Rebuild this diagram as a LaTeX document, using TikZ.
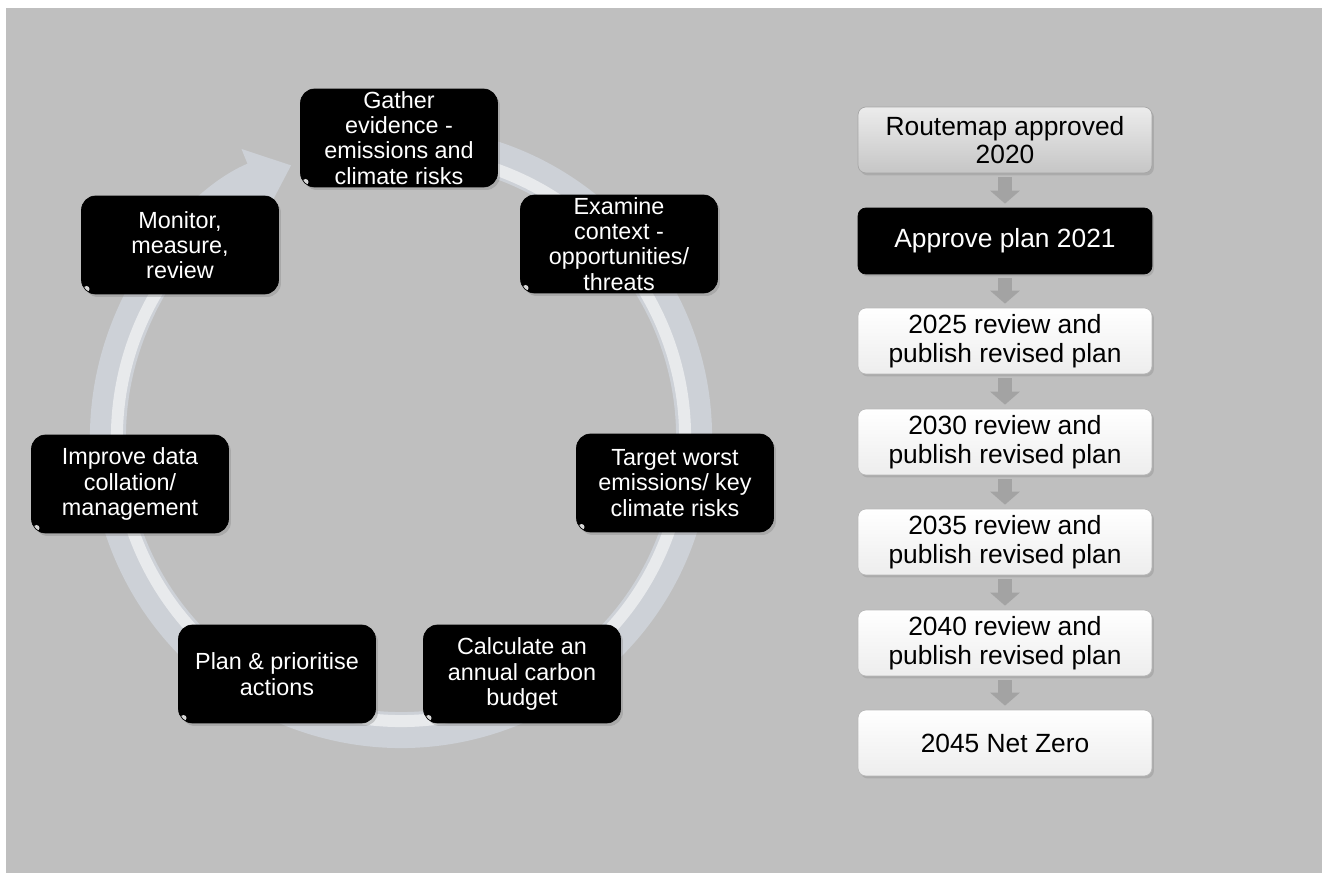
\documentclass[tikz,border=0pt]{standalone}
\usepackage{fontspec}
\setmainfont{Liberation Sans}
\usetikzlibrary{arrows.meta,shadows}
\definecolor{bggray}{HTML}{BFBFBF}
\definecolor{ringgray}{HTML}{CDD1D7}
\definecolor{arrgray}{HTML}{A3A3A3}

\begin{document}
\begin{tikzpicture}[x=0.02cm, y=0.02cm,
  stepbox/.style={draw=black, fill=black, rounded corners=8pt, minimum width=3.94cm, minimum height=1.96cm,
    inner sep=0pt, align=center, text=white, font=\fontsize{13.3}{14.4}\selectfont,
    drop shadow={opacity=0.35, shadow xshift=0.05cm, shadow yshift=-0.06cm},
    path picture={
      \shade[sharp corners, top color=black, middle color=black!72, bottom color=black] ([xshift=0.2cm, yshift=-0.02cm]path picture bounding box.north west) rectangle ([xshift=-0.2cm, yshift=-0.36cm]path picture bounding box.north east);
      \fill[white, opacity=0.85] ([xshift=0.1cm, yshift=0.1cm]path picture bounding box.south west) circle (0.06cm);
    }},
  planbox/.style={rounded corners=4.5pt, minimum width=5.88cm, minimum height=1.32cm, inner sep=0pt,
    align=center, font=\fontsize{15}{16.4}\selectfont,
    drop shadow={opacity=0.3, shadow xshift=0.04cm, shadow yshift=-0.05cm}},
  greybox/.style={planbox, draw=gray!70, top color=gray!15, bottom color=gray!45},
  darkbox/.style={planbox, draw=black, fill=black, text=white},
  whitebox/.style={planbox, draw=gray!55, top color=white, bottom color=gray!14},
  flowarr/.style={draw=arrgray, line width=0.28cm, -{Triangle[width=0.58cm, length=0.26cm]},
    shorten <=0.08cm, shorten >=0.08cm},
  ring/.style={draw=ringgray, line width=0.72cm, -{Triangle[width=1.3cm, length=0.8cm]}},
  ringhi/.style={draw=white, opacity=0.55, line width=0.24cm},
]
  \useasboundingbox (0,0) rectangle (1322,873);
  \fill[bggray] (6,0) rectangle (1322,865);

  % cycle ring
  \coordinate (ringc) at (401,436);
  \draw[ring] (ringc) ++(75:293) arc[start angle=75, end angle=-248, radius=293];
  \draw[ringhi] (ringc) ++(75:284) arc[start angle=75, end angle=-236, radius=284];

  \node[stepbox] (gather)  at (399,735) {Gather\\evidence -\\emissions and\\climate risks};
  \node[stepbox] (examine) at (619,629) {Examine\\context -\\opportunities/\\threats};
  \node[stepbox] (target)  at (675,390) {Target worst\\emissions/ key\\climate risks};
  \node[stepbox] (calc)    at (522,199) {Calculate an\\annual carbon\\budget};
  \node[stepbox] (plan)    at (277,199) {Plan \& prioritise\\actions};
  \node[stepbox] (improve) at (130,389) {Improve data\\collation/\\management};
  \node[stepbox] (monitor) at (180,628) {Monitor,\\measure,\\review};

  % route to net zero
  \node[greybox]  (r2020) at (1005,733) {Routemap approved\\2020};
  \node[darkbox]  (r2021) at (1005,632) {Approve plan 2021};
  \node[whitebox] (r2025) at (1005,532) {2025 review and\\publish revised plan};
  \node[whitebox] (r2030) at (1005,431) {2030 review and\\publish revised plan};
  \node[whitebox] (r2035) at (1005,331) {2035 review and\\publish revised plan};
  \node[whitebox] (r2040) at (1005,230) {2040 review and\\publish revised plan};
  \node[whitebox] (r2045) at (1005,130) {2045 Net Zero};

  \draw[flowarr] (r2020.south) -- (r2021.north);
  \draw[flowarr] (r2021.south) -- (r2025.north);
  \draw[flowarr] (r2025.south) -- (r2030.north);
  \draw[flowarr] (r2030.south) -- (r2035.north);
  \draw[flowarr] (r2035.south) -- (r2040.north);
  \draw[flowarr] (r2040.south) -- (r2045.north);
\end{tikzpicture}
\end{document}
